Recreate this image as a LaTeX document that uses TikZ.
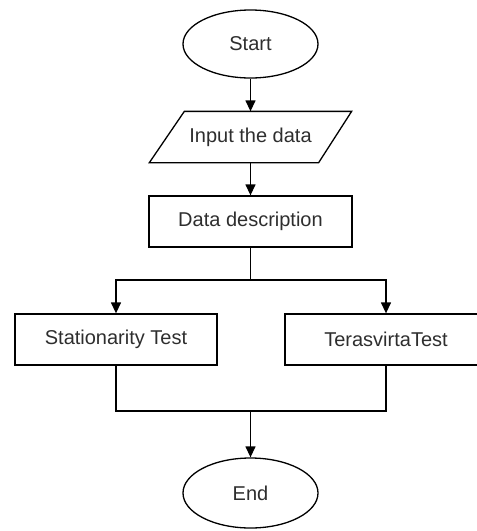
\documentclass[tikz,border=0pt]{standalone}
\usepackage{fontspec}
\setmainfont{Liberation Sans}
\usetikzlibrary{shapes.geometric,arrows.meta,calc}
\begin{document}
\begin{tikzpicture}[x=1pt,y=-1pt,
  every node/.style={font=\fontsize{20}{23}\selectfont, text=black!82, line width=1.3pt},
  term/.style={draw, ellipse, minimum width=135pt, minimum height=68pt, inner sep=0pt},
  io/.style={rectangle, minimum width=201pt, minimum height=50pt, inner sep=0pt},
  proc/.style={draw, rectangle, minimum width=202pt, minimum height=51pt, inner sep=0pt},
  flow/.style={line width=1.3pt, -{Triangle[length=11pt,width=10pt]}},
  link/.style={line width=1.3pt}]
\useasboundingbox (0,0) rectangle (477,531);
\node[term] (start) at (250.5,44) {Start};
\node[io] (input) at (250.5,137) {Input the data};
\draw[link, line join=miter] (input.south west) -- ($(input.north west)+(35,0)$) -- (input.north east) -- ($(input.south east)+(-33,0)$) -- cycle;
\node[proc, minimum width=203pt] (desc) at (250.5,221.5) {Data description};
\node[proc] (stat) at (116,339.5) {Stationarity Test};
\node[proc] (tera) at (386,339.5) {TerasvirtaTest};
\node[term, minimum height=70pt] (end) at (250.5,493) {End};
\coordinate (split) at (250.5,280);
\coordinate (join) at (250.5,411);
\draw[flow] (start) -- (input);
\draw[flow] (input) -- (desc);
\draw[link] (desc.south) -- (split);
\draw[flow] (split) -| (stat.north);
\draw[flow] (split) -| (tera.north);
\draw[link] (stat.south) |- (join);
\draw[link] (tera.south) |- (join);
\draw[flow] (join) -- (end.north);
\end{tikzpicture}
\end{document}
